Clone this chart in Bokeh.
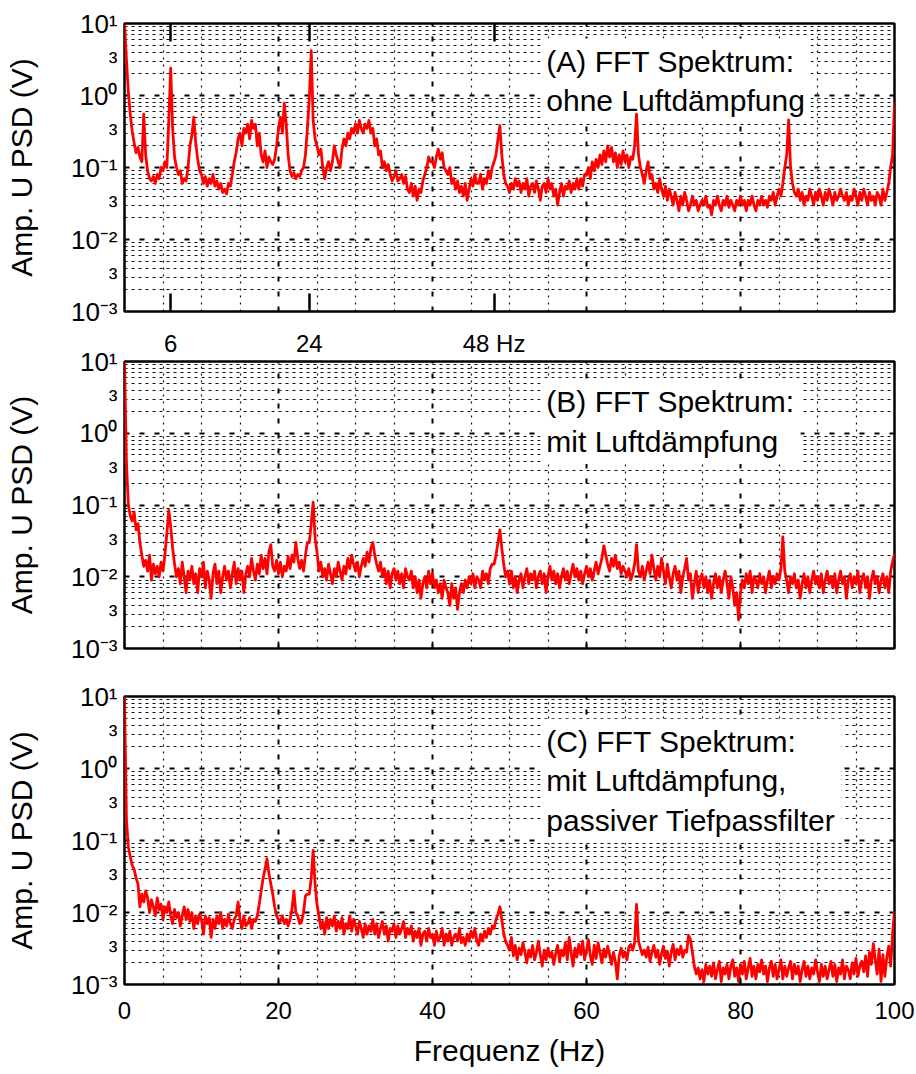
from bokeh.plotting import figure
from bokeh.models import Range1d, FixedTicker, Grid, LinearAxis, Label
from bokeh.layouts import column
from bokeh.embed import file_html
from bokeh.resources import INLINE

# ---------------- data ----------------
FREQ_STEP = 0.25  # Hz between spectrum bins

psd_a = [
    10, 3.2, 1.1, 0.55,
    0.32, 0.22, 0.16, 0.19,
    0.14, 0.12, 0.55, 0.15,
    0.09, 0.07, 0.065, 0.075,
    0.06, 0.08, 0.07, 0.1,
    0.09, 0.12, 0.1, 0.45,
    2.4, 0.35, 0.14, 0.1,
    0.08, 0.09, 0.06, 0.07,
    0.065, 0.1, 0.2, 0.28,
    0.5, 0.22, 0.13, 0.09,
    0.08, 0.06, 0.075, 0.055,
    0.07, 0.06, 0.08, 0.055,
    0.065, 0.05, 0.06, 0.045,
    0.05, 0.043, 0.06, 0.055,
    0.08, 0.12, 0.16, 0.25,
    0.3, 0.2, 0.35, 0.3,
    0.4, 0.25, 0.45, 0.35,
    0.4, 0.2, 0.3, 0.15,
    0.12, 0.17, 0.1, 0.14,
    0.12, 0.11, 0.13, 0.2,
    0.35, 0.5, 0.3, 0.78,
    0.4, 0.15, 0.09, 0.075,
    0.085, 0.07, 0.08, 0.075,
    0.09, 0.1, 0.15, 0.35,
    0.9, 4.2, 0.45, 0.25,
    0.2, 0.15, 0.18, 0.1,
    0.07, 0.1, 0.12, 0.09,
    0.12, 0.2, 0.15, 0.12,
    0.1, 0.18, 0.25, 0.2,
    0.3, 0.25, 0.35, 0.3,
    0.4, 0.3, 0.45, 0.35,
    0.3, 0.4, 0.35, 0.45,
    0.3, 0.35, 0.2, 0.25,
    0.15, 0.17, 0.1, 0.12,
    0.09, 0.11, 0.08, 0.065,
    0.075, 0.09, 0.065, 0.07,
    0.08, 0.06, 0.075, 0.05,
    0.045, 0.06, 0.04, 0.055,
    0.035, 0.05, 0.045, 0.065,
    0.08, 0.1, 0.14, 0.12,
    0.12, 0.1, 0.14, 0.18,
    0.13, 0.16, 0.1, 0.09,
    0.08, 0.1, 0.06, 0.07,
    0.05, 0.065, 0.045, 0.055,
    0.04, 0.06, 0.035, 0.05,
    0.07, 0.055, 0.08, 0.06,
    0.06, 0.08, 0.05, 0.07,
    0.06, 0.09, 0.07, 0.1,
    0.12, 0.15, 0.25, 0.38,
    0.15, 0.08, 0.06, 0.055,
    0.045, 0.06, 0.05, 0.07,
    0.055, 0.065, 0.045, 0.06,
    0.05, 0.07, 0.04, 0.055,
    0.06, 0.045, 0.065, 0.05,
    0.035, 0.055, 0.06, 0.045,
    0.07, 0.05, 0.06, 0.04,
    0.05, 0.03, 0.045, 0.06,
    0.04, 0.055, 0.05, 0.065,
    0.045, 0.06, 0.05, 0.07,
    0.05, 0.07, 0.055, 0.08,
    0.08, 0.1, 0.07, 0.12,
    0.09, 0.13, 0.1, 0.15,
    0.11, 0.17, 0.12, 0.2,
    0.14, 0.19, 0.12, 0.16,
    0.1, 0.15, 0.11, 0.17,
    0.12, 0.15, 0.1, 0.14,
    0.13, 0.2, 0.55, 0.15,
    0.1, 0.08, 0.06, 0.09,
    0.12, 0.07, 0.08, 0.05,
    0.06, 0.045, 0.07, 0.05,
    0.04, 0.055, 0.035, 0.05,
    0.04, 0.03, 0.045, 0.035,
    0.025, 0.04, 0.03, 0.045,
    0.035, 0.025, 0.03, 0.04,
    0.03, 0.035, 0.025, 0.03,
    0.035, 0.03, 0.04, 0.028,
    0.03, 0.022, 0.035, 0.03,
    0.04, 0.03, 0.025, 0.035,
    0.03, 0.04, 0.028, 0.035,
    0.03, 0.025, 0.035, 0.03,
    0.04, 0.03, 0.035, 0.025,
    0.035, 0.03, 0.04, 0.03,
    0.025, 0.035, 0.03, 0.04,
    0.03, 0.035, 0.028, 0.04,
    0.035, 0.045, 0.03, 0.04,
    0.05, 0.04, 0.06, 0.1,
    0.15, 0.46, 0.1, 0.06,
    0.045, 0.04, 0.05, 0.035,
    0.045, 0.03, 0.04, 0.035,
    0.05, 0.04, 0.03, 0.045,
    0.035, 0.05, 0.04, 0.03,
    0.045, 0.035, 0.05, 0.04,
    0.03, 0.045, 0.035, 0.04,
    0.05, 0.04, 0.035, 0.045,
    0.03, 0.04, 0.035, 0.05,
    0.04, 0.03, 0.045, 0.035,
    0.05, 0.04, 0.03, 0.045,
    0.035, 0.04, 0.03, 0.045,
    0.04, 0.03, 0.05, 0.035,
    0.045, 0.06, 0.1, 0.15,
    0.8,
]

psd_b = [
    10, 0.4, 0.1, 0.07,
    0.06, 0.08, 0.045, 0.055,
    0.03, 0.02, 0.014, 0.017,
    0.012, 0.02, 0.009, 0.015,
    0.011, 0.014, 0.01, 0.016,
    0.012, 0.02, 0.04, 0.085,
    0.05, 0.025, 0.015, 0.01,
    0.013, 0.008, 0.016, 0.01,
    0.006, 0.012, 0.009, 0.014,
    0.008, 0.011, 0.006, 0.013,
    0.01, 0.016, 0.007, 0.012,
    0.009, 0.005, 0.011, 0.015,
    0.008, 0.012, 0.006, 0.01,
    0.014, 0.009, 0.012, 0.007,
    0.011, 0.016, 0.008, 0.013,
    0.009, 0.012, 0.006, 0.011,
    0.014, 0.01, 0.018, 0.012,
    0.009, 0.015, 0.011, 0.02,
    0.013, 0.018, 0.011, 0.022,
    0.028, 0.014, 0.012, 0.017,
    0.011, 0.016, 0.01, 0.014,
    0.012, 0.019, 0.013, 0.02,
    0.016, 0.03, 0.018, 0.013,
    0.017, 0.012, 0.02, 0.03,
    0.03, 0.055, 0.11, 0.035,
    0.022, 0.012, 0.016, 0.01,
    0.013, 0.009, 0.015, 0.011,
    0.008, 0.013, 0.01, 0.016,
    0.012, 0.009, 0.014, 0.011,
    0.018, 0.013, 0.02, 0.015,
    0.012, 0.016, 0.01, 0.014,
    0.018, 0.014, 0.022, 0.016,
    0.025, 0.03, 0.02, 0.015,
    0.012, 0.016, 0.01, 0.013,
    0.008, 0.012, 0.007, 0.011,
    0.013, 0.009, 0.012, 0.008,
    0.011, 0.007, 0.013, 0.01,
    0.009, 0.012, 0.007, 0.01,
    0.006, 0.009, 0.005, 0.008,
    0.01, 0.007, 0.012, 0.008,
    0.011, 0.007, 0.009, 0.006,
    0.008, 0.005, 0.009, 0.007,
    0.006, 0.004, 0.008, 0.005,
    0.007, 0.0035, 0.006, 0.008,
    0.006, 0.009, 0.007, 0.01,
    0.008, 0.011, 0.007, 0.01,
    0.009, 0.007, 0.012, 0.009,
    0.011, 0.008, 0.013, 0.015,
    0.015, 0.02, 0.03, 0.045,
    0.025, 0.015, 0.01, 0.012,
    0.008, 0.012, 0.007, 0.01,
    0.006, 0.009, 0.011, 0.007,
    0.01, 0.013, 0.008, 0.011,
    0.009, 0.012, 0.007, 0.01,
    0.012, 0.008, 0.011, 0.006,
    0.01, 0.014, 0.009, 0.012,
    0.008, 0.011, 0.007, 0.01,
    0.013, 0.009, 0.012, 0.008,
    0.011, 0.015, 0.01, 0.013,
    0.009, 0.012, 0.008, 0.011,
    0.014, 0.01, 0.013, 0.009,
    0.012, 0.016, 0.011, 0.014,
    0.018, 0.027, 0.02, 0.015,
    0.012, 0.018, 0.014, 0.02,
    0.013, 0.016, 0.011, 0.014,
    0.012, 0.01, 0.013, 0.009,
    0.011, 0.015, 0.028, 0.012,
    0.01, 0.014, 0.009, 0.012,
    0.016, 0.011, 0.02, 0.013,
    0.009, 0.014, 0.01, 0.018,
    0.012, 0.008, 0.015, 0.01,
    0.007, 0.011, 0.014, 0.009,
    0.012, 0.006, 0.01, 0.013,
    0.018, 0.009, 0.011, 0.005,
    0.008, 0.012, 0.006, 0.009,
    0.011, 0.007, 0.01, 0.006,
    0.009, 0.005, 0.008, 0.011,
    0.007, 0.01, 0.006, 0.009,
    0.012, 0.008, 0.005, 0.01,
    0.007, 0.004, 0.006, 0.0025,
    0.006, 0.009, 0.007, 0.011,
    0.008, 0.012, 0.006, 0.01,
    0.009, 0.007, 0.011, 0.008,
    0.01, 0.006, 0.009, 0.012,
    0.007, 0.01, 0.008, 0.011,
    0.009, 0.013, 0.036, 0.012,
    0.009, 0.006, 0.01, 0.008,
    0.011, 0.007, 0.009, 0.005,
    0.008, 0.011, 0.007, 0.01,
    0.006, 0.009, 0.012, 0.008,
    0.01, 0.007, 0.011, 0.006,
    0.009, 0.012, 0.008, 0.01,
    0.007, 0.011, 0.006, 0.009,
    0.012, 0.008, 0.01, 0.005,
    0.009, 0.011, 0.007, 0.01,
    0.008, 0.012, 0.006, 0.009,
    0.011, 0.007, 0.01, 0.005,
    0.009, 0.012, 0.008, 0.01,
    0.006, 0.009, 0.011, 0.007,
    0.01, 0.006, 0.012, 0.016,
    0.021,
]

psd_c = [
    10, 0.2, 0.08, 0.06,
    0.045, 0.04, 0.03, 0.025,
    0.012, 0.018, 0.014, 0.02,
    0.016, 0.01, 0.015, 0.012,
    0.009, 0.016, 0.011, 0.013,
    0.008, 0.012, 0.01, 0.014,
    0.009, 0.007, 0.011, 0.0085,
    0.01, 0.0065, 0.009, 0.012,
    0.008, 0.011, 0.0075, 0.01,
    0.006, 0.009, 0.007, 0.0095,
    0.008, 0.005, 0.009, 0.007,
    0.0085, 0.0045, 0.008, 0.006,
    0.009, 0.007, 0.01, 0.006,
    0.008, 0.0065, 0.0095, 0.007,
    0.006, 0.008, 0.009, 0.014,
    0.008, 0.006, 0.009, 0.0065,
    0.007, 0.0085, 0.006, 0.008,
    0.0075, 0.009, 0.013, 0.02,
    0.03, 0.04, 0.056, 0.035,
    0.025, 0.018, 0.012, 0.009,
    0.008, 0.0075, 0.009, 0.007,
    0.008, 0.0065, 0.008, 0.011,
    0.02, 0.01, 0.009, 0.007,
    0.0075, 0.01, 0.017, 0.018,
    0.018, 0.03, 0.073, 0.025,
    0.013, 0.009, 0.006, 0.0075,
    0.005, 0.0085, 0.006, 0.008,
    0.0065, 0.009, 0.0055, 0.0075,
    0.006, 0.0085, 0.005, 0.007,
    0.006, 0.009, 0.0055, 0.008,
    0.0065, 0.005, 0.0075, 0.006,
    0.0045, 0.007, 0.005, 0.0065,
    0.0055, 0.008, 0.005, 0.007,
    0.0045, 0.006, 0.0075, 0.005,
    0.0065, 0.004, 0.006, 0.0055,
    0.007, 0.0045, 0.0065, 0.005,
    0.006, 0.0075, 0.0045, 0.006,
    0.005, 0.0065, 0.004, 0.0055,
    0.0045, 0.006, 0.0035, 0.005,
    0.0055, 0.004, 0.006, 0.0045,
    0.005, 0.0035, 0.0055, 0.004,
    0.0045, 0.006, 0.0035, 0.005,
    0.004, 0.0055, 0.0035, 0.0045,
    0.005, 0.004, 0.006, 0.0038,
    0.0045, 0.0035, 0.005, 0.004,
    0.0055, 0.0045, 0.006, 0.004,
    0.0035, 0.005, 0.004, 0.0055,
    0.0045, 0.006, 0.005, 0.0065,
    0.006, 0.008, 0.0095, 0.012,
    0.008, 0.005, 0.004, 0.0035,
    0.003, 0.0045, 0.0025, 0.0035,
    0.0022, 0.0032, 0.0026, 0.0038,
    0.0028, 0.002, 0.003, 0.0024,
    0.0035, 0.0022, 0.0028, 0.004,
    0.0026, 0.0018, 0.003, 0.0022,
    0.0032, 0.0024, 0.0028, 0.0019,
    0.0027, 0.0035, 0.0021, 0.003,
    0.0025, 0.0038, 0.0022, 0.0045,
    0.0028, 0.0018, 0.0032, 0.0024,
    0.0036, 0.0026, 0.004, 0.0022,
    0.003, 0.0042, 0.0025, 0.0019,
    0.0035, 0.0023, 0.0038, 0.0028,
    0.002, 0.0031, 0.0024, 0.0034,
    0.0026, 0.0019, 0.0028, 0.0021,
    0.0012, 0.0025, 0.0032, 0.0024,
    0.0028, 0.0022, 0.0033, 0.0036,
    0.003, 0.0038, 0.013, 0.004,
    0.0032, 0.0026, 0.003, 0.0024,
    0.0033, 0.0021, 0.0028, 0.0035,
    0.0024, 0.003, 0.0019, 0.0027,
    0.0034, 0.0023, 0.0029, 0.0018,
    0.0028, 0.0036, 0.0022, 0.0031,
    0.0026, 0.0034, 0.0024, 0.003,
    0.0028, 0.0048, 0.0042, 0.0028,
    0.0018, 0.0014, 0.0017, 0.0012,
    0.0016, 0.0011, 0.0019, 0.0014,
    0.0018, 0.0013, 0.002, 0.0012,
    0.0016, 0.0021, 0.0011, 0.0017,
    0.0014, 0.0019, 0.0012, 0.0018,
    0.0022, 0.0013, 0.0017, 0.0011,
    0.0019, 0.0014, 0.0021, 0.0012,
    0.0017, 0.0023, 0.0013, 0.0018,
    0.0012, 0.0019, 0.0015, 0.0022,
    0.0014, 0.0018, 0.0011, 0.0017,
    0.0021, 0.0013, 0.0019, 0.0012,
    0.0016, 0.0022, 0.0012, 0.0018,
    0.0013, 0.0017, 0.0021, 0.0012,
    0.0019, 0.0014, 0.0018, 0.0011,
    0.0016, 0.0021, 0.0013, 0.0018,
    0.0012, 0.0017, 0.0014, 0.0022,
    0.0015, 0.0011, 0.0019, 0.0013,
    0.0018, 0.0012, 0.0016, 0.0021,
    0.0013, 0.0019, 0.0011, 0.0017,
    0.0014, 0.0022, 0.0012, 0.0018,
    0.0016, 0.0012, 0.002, 0.0014,
    0.0023, 0.0013, 0.0018, 0.0021,
    0.0015, 0.0025, 0.0013, 0.0028,
    0.0019, 0.0037, 0.0022, 0.0014,
    0.0031, 0.0011, 0.0026, 0.0013,
    0.0024, 0.0034, 0.0018, 0.005,
    0.0105,
]

y_decades = [0.001, 0.01, 0.1, 1, 10]
y_decade_labels = ["10\u207b\u00b3", "10\u207b\u00b2", "10\u207b\u00b9", "10\u2070", "10\u00b9"]
y_minor_mults = [2, 3, 4, 5, 6, 7, 8, 9]
y_three_label = "\u00b3"
x_major = [0, 20, 40, 60, 80, 100]
x_minor = [5, 10, 15, 25, 30, 35, 45, 50, 55, 65, 70, 75, 85, 90, 95]
marker_freqs = [6, 24, 48]
marker_labels = ["6", "24", "48 Hz"]
panel_texts = [
    "(A) FFT Spektrum:\nohne Luftd\u00e4mpfung",
    "(B) FFT Spektrum:\nmit Luftd\u00e4mpfung",
    "(C) FFT Spektrum:\nmit Luftd\u00e4mpfung,\npassiver Tiefpassfilter",
]
y_label = "Amp. U PSD (V)"
x_label = "Frequenz (Hz)"

# ---------------- styling ----------------
FONT = "Liberation Sans"
RED = "#ff0000"

y_minor = [m * d for d in y_decades[:-1] for m in y_minor_mults]
y_threes = [3 * d for d in y_decades[:-1]]


def make_panel(psd, height, border_top, border_bottom, text, text_top):
    freq = [i * FREQ_STEP for i in range(len(psd))]
    p = figure(width=916, height=height, x_range=Range1d(0, 100),
               y_range=Range1d(1e-3, 1e1), y_axis_type="log",
               output_backend="svg", toolbar_location=None,
               min_border_left=124, min_border_right=22,
               min_border_top=border_top, min_border_bottom=border_bottom,
               background_fill_color="white", border_fill_color="white",
               outline_line_color="black", outline_line_width=2.5)
    p.xgrid.visible = False
    p.ygrid.visible = False

    p.add_layout(Grid(dimension=0, ticker=FixedTicker(ticks=x_major, minor_ticks=x_minor),
                      grid_line_color="black", grid_line_width=2, grid_line_dash="5 10",
                      minor_grid_line_color="#111111", minor_grid_line_width=1.2,
                      minor_grid_line_dash="2 5"))
    p.add_layout(Grid(dimension=1, ticker=FixedTicker(ticks=y_decades, minor_ticks=y_minor),
                      grid_line_color="black", grid_line_width=2, grid_line_dash="5 10",
                      minor_grid_line_color="#111111", minor_grid_line_width=1.2,
                      minor_grid_line_dash="3 4"))

    # white text box with panel description
    p.add_layout(Label(x=54, y=text_top, text=text, text_align="left", text_baseline="top",
                       text_font=FONT, text_font_size="30px", text_color="black",
                       text_line_height=1.2,
                       background_fill_color="white", padding=6, level="underlay"))

    p.line(freq, psd, line_color=RED, line_width=2.8, line_join="round")

    ya = p.yaxis[0]
    ya.ticker = FixedTicker(ticks=y_decades + y_threes)
    overrides = dict(zip(y_decades, y_decade_labels))
    overrides.update({t: y_three_label for t in y_threes})
    ya.major_label_overrides = overrides
    ya.major_label_text_font = FONT
    ya.major_label_text_font_size = "26px"
    ya.major_label_text_color = "black"
    ya.major_label_standoff = 7
    ya.major_tick_line_color = None
    ya.major_tick_in = 0
    ya.major_tick_out = 0
    ya.minor_tick_line_color = None
    ya.axis_line_color = None
    ya.axis_label = y_label
    ya.axis_label_text_font = FONT
    ya.axis_label_text_font_size = "30px"
    ya.axis_label_text_font_style = "normal"
    ya.axis_label_text_color = "black"
    ya.axis_label_standoff = 30
    return p


# Panel A
pa = make_panel(psd_a, 326, 23, 15, panel_texts[0], 10 ** 0.79)
xa = pa.xaxis[0]
xa.ticker = FixedTicker(ticks=marker_freqs)
xa.major_label_overrides = {f: "" for f in marker_freqs}
xa.major_label_text_font_size = "1px"
xa.major_label_standoff = 0
xa.major_tick_in = 18
xa.major_tick_out = 0
xa.major_tick_line_width = 2.5
xa.major_tick_line_color = "black"
xa.minor_tick_line_color = None
xa.axis_line_color = None
top_axis = LinearAxis(ticker=FixedTicker(ticks=marker_freqs),
                      major_label_overrides={f: "" for f in marker_freqs},
                      major_label_text_font_size="1px", major_label_standoff=0,
                      major_tick_in=18, major_tick_out=0, major_tick_line_width=2.5,
                      major_tick_line_color="black", minor_tick_line_color=None,
                      axis_line_color=None)
pa.add_layout(top_axis, "above")

# Panel B
pb = make_panel(psd_b, 346, 33, 24, panel_texts[1], 10 ** 0.75)
xb = pb.xaxis[0]
xb.ticker = FixedTicker(ticks=x_major)
xb.major_label_overrides = {f: "" for f in x_major}
xb.major_label_text_font_size = "1px"
xb.major_label_standoff = 0
xb.major_tick_in = 7
xb.major_tick_out = 0
xb.major_tick_line_width = 1.5
xb.minor_tick_line_color = None
xb.axis_line_color = None
# frequency marker labels of panel A, drawn just above panel B
marker_axis = LinearAxis(ticker=FixedTicker(ticks=marker_freqs),
                         major_label_overrides=dict(zip(marker_freqs, marker_labels)),
                         major_label_text_font=FONT, major_label_text_font_size="24px",
                         major_label_text_color="black", major_label_standoff=5,
                         major_tick_in=0, major_tick_out=0, major_tick_line_color=None,
                         minor_tick_line_color=None, axis_line_color=None)
pb.add_layout(marker_axis, "above")

# Panel C
pc = make_panel(psd_c, 402, 24, 90, panel_texts[2], 10 ** 0.69)
xc = pc.xaxis[0]
xc.ticker = FixedTicker(ticks=x_major)
xc.major_label_text_font = FONT
xc.major_label_text_font_size = "24px"
xc.major_label_text_color = "black"
xc.major_label_standoff = 17
xc.major_tick_in = 7
xc.major_tick_out = 0
xc.major_tick_line_width = 1.5
xc.minor_tick_line_color = None
xc.axis_line_color = None
xc.axis_label = x_label
xc.axis_label_text_font = FONT
xc.axis_label_text_font_size = "30px"
xc.axis_label_text_font_style = "normal"
xc.axis_label_text_color = "black"
xc.axis_label_standoff = 12

layout = column(pa, pb, pc, spacing=0)
open("out.html", "w").write(file_html(layout, INLINE))
